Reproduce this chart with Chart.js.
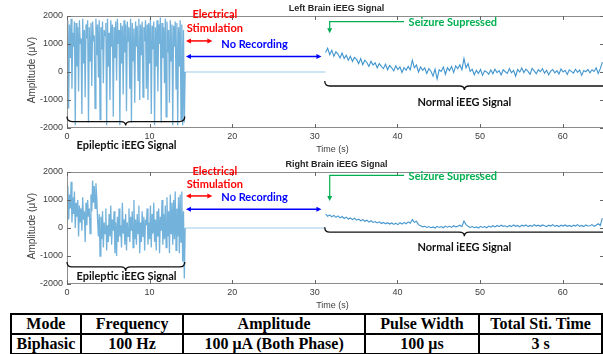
<!DOCTYPE html>
<html>
<head>
<meta charset="utf-8">
<script src="https://cdn.jsdelivr.net/npm/chart.js@4.4.1/dist/chart.umd.min.js"></script>
<style>
body { margin: 0; width: 603px; height: 354px; overflow: hidden; background: #fff; position: relative; }
.plot { position: absolute; left: 0; width: 605px; height: 156px; }
#left { top: 0; }
#right { top: 156px; }
#tbl { position: absolute; left: 10px; top: 313px; border-collapse: collapse; table-layout: fixed;
       font: bold 16px "Liberation Serif", "Times New Roman", serif; color: #000; }
#tbl td { border: 2px solid #000; height: 18px; line-height: 18px; padding: 0; text-align: center; white-space: nowrap; }
</style>
</head>
<body>
<div class="plot" id="left"><canvas id="leftChart"></canvas></div>
<div class="plot" id="right"><canvas id="rightChart"></canvas></div>
<table id="tbl">
  <colgroup><col style="width:70px"><col style="width:103px"><col style="width:182px"><col style="width:115px"><col style="width:123px"></colgroup>
  <tr><td>Mode</td><td>Frequency</td><td>Amplitude</td><td>Pulse Width</td><td>Total Sti. Time</td></tr>
  <tr><td>Biphasic</td><td>100 Hz</td><td>100 μA (Both Phase)</td><td>100 μs</td><td>3 s</td></tr>
</table>
<script>
// sampling of the values (seconds)
const epiStep = 0.1;
const normStep = 0.25;
const epiStart = 0;
const gapStart = 14.3;
const gapEnd = 31.3;
const normStart = 31.3;

const xTicks = [0, 10, 20, 30, 40, 50, 60];
const yTicks = [-2000, -1000, 0, 1000, 2000];

// Left brain, seizure part (uV)
const leftEpileptic = [
    0, 1850, -1300, 1700, 500, 1900, -600, 1400, 900, 1800,
    -1900, 1750, 200, 1600, -700, 1850, 1000, 1200, -1500, 1900,
    300, 1500, -900, 1700, 1200, 1850, -1800, 1600, 400, 1750,
    -500, 1800, 1100, 1300, -1300, 1900, 600, 1700, -200, 1850,
    -1700, 1600, 800, 1800, -400, 1500, 1300, 1750, -1900, 1900,
    200, 1400, -1000, 1850, 900, 1700, -1600, 1600, 500, 1800,
    -300, 1900, 1000, 1500, -1900, 1750, 300, 1650, -800, 1850,
    700, 1700, -1400, 1800, 1100, 1600, -600, 1900, -1800, 1750,
    400, 1550, -1100, 1800, 900, 1650, -300, 1900, -1000, 1700,
    600, 1800, -900, 1600, 1100, 1850, -600, 1700, -1000, 1750,
    300, 1900, -1500, 1650, 800, 1800, -1900, 1600, 200, 1850,
    -700, 1700, 1000, 1950, -1800, 1750, 500, 1600, -400, 1900,
    -1600, 1800, 700, 1500, -1100, 1850, 400, 1700, -1900, 1650,
    900, 1800, -600, 1750, -1900, 1600, 200, 1850, -1700, 1700,
    -1900, 1500, -1800, 0
];

// Left brain, after stimulation
const leftNormal = [
    700, 850, 620, 780, 560, 720, 640, 500,
    680, 480, 600, 420, 560, 380, 520, 450,
    300, 480, 260, 420, 340, 200, 380, 250,
    330, 150, 300, 200, 120, 280, 80, 230,
    150, 40, 220, 90, 180, -20, 160, 60,
    200, 80, 420, 150, 250, 0, 180, 60,
    150, -50, 120, 30, -150, 100, -250, 80,
    20, 180, -80, 150, 50, 200, -20, 220,
    120, 260, 80, 480, 150, 300, 20, 100,
    -100, 60, -50, 90, -120, 40, 0, -80,
    70, -60, 100, -20, 50, -100, 80, 10,
    -50, 120, -30, 60, -150, 90, 0, 140,
    -20, 100, 20, -80, 130, 40, -60, 80,
    10, 120, -40, 60, -100, 30, 90, -30,
    50, -70, 110, 0, 60, -90, 80, 20,
    -40, 100, -10, 70, -120, 50, 10, 90,
    -30, 80, 20, 150, -50, 120, 350
];

// Right brain, seizure part
const rightEpileptic = [
    400, 1500, 300, 1200, 700, 1650, 200, 1100, 500, 1300,
    0, 900, 400, 1000, -300, 800, 200, 700, -100, 1100,
    300, 600, -500, 900, 100, 1000, 400, 700, -200, 1200,
    600, 1700, 900, 1500, 700, 1600, 1100, 300, -300, 500,
    -1000, 400, -400, 600, -700, 200, -200, 700, -800, 100,
    -500, 500, -300, 800, -600, 300, -100, 600, -900, 200,
    -1000, 400, -500, 700, -300, 100, -700, 900, -200, 300,
    -600, 500, -800, 200, -300, 700, -500, 400, -100, 600,
    -700, 1000, -400, 300, -600, 500, -200, 800, -900, 200,
    -500, 600, -300, 400, -800, 300, 100, 700, -600, 200,
    -400, 800, -700, 500, -200, 900, -500, 300, -800, 600,
    -300, 700, -900, 400, -100, 1000, -600, 500, -400, 800,
    -700, 1100, -300, 600, -900, 1200, -200, 900, -600, 1000,
    -400, 1300, -800, 700, -300, 1100, -900, 1200, -500, 1300,
    -1200, 600, -1800, 0
];

// Right brain, after stimulation
const rightNormal = [
    500, 420, 470, 400, 450, 380, 430, 360,
    410, 340, 390, 320, 360, 300, 350, 280,
    320, 260, 300, 240, 280, 210, 260, 200,
    230, 180, 220, 160, 200, 150, 190, 140,
    180, 130, 170, 120, 190, 140, 200, 150,
    220, 170, 300, 200, 240, 120, 80, 40,
    60, 20, 50, 10, 40, 0, 60, 20,
    50, 10, 70, 30, 60, 20, 80, 40,
    60, 100, 50, 250, 120, 60, 20, 50,
    10, 40, 0, 60, 20, 50, 10, 70,
    30, 80, 40, 90, 50, 100, 60, 80,
    40, 90, 50, 110, 60, 90, 40, 100,
    70, 110, 50, 90, 60, 120, 70, 100,
    60, 110, 80, 50, 100, 70, 120, 60,
    90, 50, 100, 70, 110, 60, 90, 50,
    100, 70, 120, 60, 90, 50, 110, 70,
    80, 120, 60, 100, 150, 90, 350
];

// annotation anchors, in axis units (s, uV)
const leftNotes = {
    title: 'Left Brain iEEG Signal',
    elec: 2040, stim: 1540, noRec: 990,
    redY: 1110, blueY: 550,
    greenY: 1800, greenTo: 1380,
    normBraceY: -500, normTextY: -1100,
    epiBraceY: -1770, epiTextY: -2630
};
const rightNotes = {
    title: 'Right Brain iEEG Signal',
    elec: 2030, stim: 1560, noRec: 1090,
    redY: 1145, blueY: 670,
    greenY: 1876, greenTo: 966,
    normBraceY: -150, normTextY: -710,
    epiBraceY: -1390, epiTextY: -1745
};

function toPoints(start, step, values) {
    return values.map((v, i) => ({ x: +(start + i * step).toFixed(2), y: v }));
}

const noteFont = 'bold 11px Lato, "Open Sans", sans-serif';

function arrowHead(ctx, x, y, dx, dy) {
    // filled triangle pointing along (dx, dy)
    const len = 5, half = 2.5;
    ctx.beginPath();
    ctx.moveTo(x, y);
    ctx.lineTo(x - dx * len - dy * half, y - dy * len + dx * half);
    ctx.lineTo(x - dx * len + dy * half, y - dy * len - dx * half);
    ctx.closePath();
    ctx.fill();
}

function doubleArrow(ctx, x1, x2, y, color) {
    ctx.strokeStyle = color;
    ctx.fillStyle = color;
    ctx.lineWidth = 1.5;
    ctx.beginPath();
    ctx.moveTo(x1 + 3, y);
    ctx.lineTo(x2 - 3, y);
    ctx.stroke();
    arrowHead(ctx, x1, y, -1, 0);
    arrowHead(ctx, x2, y, 1, 0);
}

function brace(ctx, x1, x2, xm, y, h) {
    ctx.beginPath();
    ctx.moveTo(x1, y - h);
    ctx.quadraticCurveTo(x1, y, x1 + h, y);
    ctx.lineTo(xm - h, y);
    ctx.quadraticCurveTo(xm, y, xm, y + h * 0.8);
    ctx.quadraticCurveTo(xm, y, xm + h, y);
    ctx.lineTo(x2 - h, y);
    ctx.quadraticCurveTo(x2, y, x2, y - h);
    ctx.stroke();
}

function text(ctx, str, x, y, color, align) {
    ctx.fillStyle = color;
    ctx.textAlign = align || 'center';
    ctx.textBaseline = 'middle';
    ctx.fillText(str, x, y);
}

const decor = {
    id: 'decor',
    afterDraw(chart, args, opts) {
        const { ctx, chartArea: a, scales: { x, y } } = chart;
        const n = opts.notes;
        ctx.save();

        // MATLAB style box with inward ticks
        ctx.strokeStyle = '#8c8c8c';
        ctx.lineWidth = 1;
        ctx.strokeRect(a.left + 0.5, a.top + 0.5, a.right - a.left - 1, a.bottom - a.top - 1);
        ctx.strokeStyle = '#666';
        ctx.beginPath();
        xTicks.forEach(t => {
            const px = Math.round(x.getPixelForValue(t)) + 0.5;
            ctx.moveTo(px, a.bottom); ctx.lineTo(px, a.bottom - 4);
            ctx.moveTo(px, a.top); ctx.lineTo(px, a.top + 4);
        });
        yTicks.forEach(v => {
            const py = Math.round(y.getPixelForValue(v)) + 0.5;
            ctx.moveTo(a.left, py); ctx.lineTo(a.left + 4, py);
            ctx.moveTo(a.right, py); ctx.lineTo(a.right - 4, py);
        });
        ctx.stroke();

        // axis titles and plot title
        ctx.font = '9px "Liberation Sans", Arial, sans-serif';
        text(ctx, 'Time (s)', (a.left + a.right) / 2 - 3, a.bottom + 22, '#404040');
        ctx.save();
        ctx.translate(32, (a.top + a.bottom) / 2 - 2);
        ctx.rotate(-Math.PI / 2);
        ctx.font = '10px "Liberation Sans", Arial, sans-serif';
        text(ctx, 'Amplitude (μV)', 0, 0, '#404040');
        ctx.restore();
        ctx.font = 'bold 9px "Liberation Sans", Arial, sans-serif';
        text(ctx, n.title, (a.left + a.right) / 2 + 1, a.top - 7, '#262626');

        const X = t => x.getPixelForValue(t);
        const Y = v => y.getPixelForValue(v);

        // stimulation / no recording
        ctx.font = noteFont;
        text(ctx, 'Electrical', X(17.9), Y(n.elec), '#ff0000');
        text(ctx, 'Stimulation', X(17.9), Y(n.stim), '#ff0000');
        doubleArrow(ctx, X(14.4), X(17.6), Y(n.redY), '#ff0000');
        text(ctx, 'No Recording', X(22.7), Y(n.noRec), '#0000ff');
        doubleArrow(ctx, X(14.4), X(30.8), Y(n.blueY), '#0000ff');

        // seizure supressed marker
        ctx.strokeStyle = '#00b050';
        ctx.fillStyle = '#00b050';
        ctx.lineWidth = 1.2;
        ctx.beginPath();
        ctx.moveTo(X(40.8), Y(n.greenY));
        ctx.lineTo(X(31.8), Y(n.greenY));
        ctx.lineTo(X(31.8), Y(n.greenTo) - 4);
        ctx.stroke();
        arrowHead(ctx, X(31.8), Y(n.greenTo), 0, 1);
        text(ctx, 'Seizure Supressed', X(41.35), Y(n.greenY) + 1, '#00b050', 'left');

        // braces
        ctx.strokeStyle = '#111';
        ctx.lineWidth = 1.3;
        brace(ctx, X(0), X(14.25), X(7.1), Y(n.epiBraceY), 5);
        brace(ctx, X(31.2), X(66), X(48.1), Y(n.normBraceY), 5);
        text(ctx, 'Normal iEEG Signal', X(48.1), Y(n.normTextY), '#111');
        text(ctx, 'Epileptic iEEG Signal', X(7.2), Y(n.epiTextY), '#111');

        ctx.restore();
    }
};

const tickFont = { family: '"Liberation Sans", Arial', size: 9 };

function makeChart(id, epi, norm, notes) {
    const epiColor = 'rgba(0, 114, 189, 0.55)';
    const normColor = 'rgba(0, 114, 189, 0.75)';
    return new Chart(document.getElementById(id), {
        type: 'line',
        data: {
            datasets: [
                { data: toPoints(epiStart, epiStep, epi), borderColor: epiColor, borderWidth: 1.3 },
                { data: [{ x: gapStart, y: 0 }, { x: gapEnd, y: 0 }], borderColor: '#9ecbea', borderWidth: 1 },
                { data: toPoints(normStart, normStep, norm), borderColor: normColor, borderWidth: 1.1 }
            ]
        },
        options: {
            responsive: true,
            maintainAspectRatio: false,
            animation: false,
            events: [],
            elements: { point: { radius: 0 }, line: { tension: 0 } },
            layout: { padding: { left: 25, right: 1, top: 16, bottom: 0 } },
            plugins: { legend: { display: false }, tooltip: { enabled: false }, decor: { notes: notes } },
            scales: {
                x: {
                    type: 'linear', min: 0, max: 65,
                    grid: { display: false, drawTicks: false }, border: { display: false },
                    afterBuildTicks: s => { s.ticks = xTicks.map(v => ({ value: v })); },
                    afterFit: s => { s.height = 28; },
                    ticks: { padding: 3, color: '#404040', font: tickFont, callback: v => String(v) }
                },
                y: {
                    min: -2000, max: 2000,
                    grid: { display: false, drawTicks: false }, border: { display: false },
                    afterBuildTicks: s => { s.ticks = yTicks.map(v => ({ value: v })); },
                    afterFit: s => { s.width = 42; },
                    ticks: { padding: 4, color: '#404040', font: tickFont, callback: v => String(v) }
                }
            }
        },
        plugins: [decor]
    });
}

makeChart('leftChart', leftEpileptic, leftNormal, leftNotes);
makeChart('rightChart', rightEpileptic, rightNormal, rightNotes);
</script>
</body>
</html>
